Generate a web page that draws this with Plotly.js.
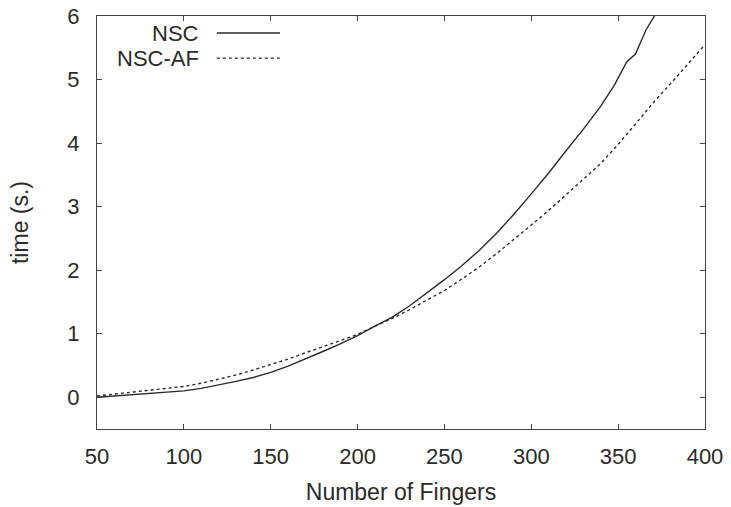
<!DOCTYPE html>
<html>
<head>
<meta charset="utf-8">
<script src="https://cdn.plot.ly/plotly-3.0.1.min.js"></script>
<style>html,body{margin:0;padding:0;background:#fff;}#chart{width:731px;height:507px;}</style>
</head>
<body>
<div id="chart"></div>
<script>
// Data
const nscX = [50,60,70,80,90,100,110,120,130,140,150,160,170,180,190,200,210,220,230,240,250,260,270,280,290,300,310,320,330,340,348,355,360,366,372];
const nscY = [0.0,0.02,0.04,0.06,0.08,0.10,0.14,0.19,0.25,0.31,0.39,0.49,0.60,0.72,0.84,0.97,1.12,1.26,1.44,1.64,1.85,2.07,2.31,2.58,2.88,3.20,3.53,3.88,4.22,4.58,4.92,5.28,5.40,5.78,6.05];
const afX = [50,60,70,80,90,100,110,120,130,140,150,160,170,180,190,200,210,220,230,240,250,260,270,280,290,300,310,320,330,340,350,360,370,380,390,400];
const afY = [0.02,0.05,0.08,0.11,0.14,0.17,0.22,0.28,0.35,0.43,0.51,0.60,0.70,0.79,0.89,0.99,1.11,1.24,1.38,1.53,1.68,1.86,2.05,2.26,2.48,2.71,2.94,3.18,3.43,3.68,3.98,4.30,4.63,4.93,5.24,5.55];
const seriesNames = ['NSC', 'NSC-AF'];
const xTicks = [50,100,150,200,250,300,350,400];
const yTicks = [0,1,2,3,4,5,6];

const ink = '#2a2a2a';
const fontFam = 'Liberation Sans, Arial, sans-serif';
const traces = [
  {x: nscX, y: nscY, mode: 'lines', name: seriesNames[0], line: {color: ink, width: 1.4, dash: 'solid'}, showlegend: false},
  {x: afX, y: afY, mode: 'lines', name: seriesNames[1], line: {color: ink, width: 1.4, dash: 'dot'}, showlegend: false}
];

const axisCommon = {
  showgrid: false, zeroline: false, showline: true, linecolor: '#444', linewidth: 1.2,
  mirror: 'ticks', ticks: 'inside', ticklen: 5, tickcolor: '#444', tickwidth: 1,
  tickfont: {family: fontFam, size: 22, color: ink}
};

const layout = {
  width: 731, height: 507,
  margin: {l: 97, r: 26, t: 16, b: 78},
  paper_bgcolor: '#ffffff', plot_bgcolor: '#ffffff',
  xaxis: Object.assign({}, axisCommon, {
    range: [50, 400], tickvals: xTicks, ticktext: xTicks.map(String),
    ticklabelstandoff: 7,
    title: {text: 'Number of Fingers', font: {family: fontFam, size: 23, color: ink}, standoff: 16}
  }),
  yaxis: Object.assign({}, axisCommon, {
    range: [-0.5, 6], tickvals: yTicks, ticktext: yTicks.map(String),
    ticklabelstandoff: 12,
    title: {text: 'time (s.)', font: {family: fontFam, size: 23, color: ink}, standoff: 32}
  }),
  annotations: [
    {xref: 'paper', yref: 'paper', x: 0.171, y: 0.957, xanchor: 'right', yanchor: 'middle', text: seriesNames[0], showarrow: false, font: {family: fontFam, size: 22, color: ink}},
    {xref: 'paper', yref: 'paper', x: 0.171, y: 0.896, xanchor: 'right', yanchor: 'middle', text: seriesNames[1], showarrow: false, font: {family: fontFam, size: 22, color: ink}}
  ],
  shapes: [
    {type: 'line', xref: 'paper', yref: 'paper', x0: 0.197, x1: 0.301, y0: 0.959, y1: 0.959, line: {color: ink, width: 1.4, dash: 'solid'}},
    {type: 'line', xref: 'paper', yref: 'paper', x0: 0.197, x1: 0.301, y0: 0.898, y1: 0.898, line: {color: ink, width: 1.4, dash: 'dot'}}
  ]
};

Plotly.newPlot('chart', traces, layout, {displayModeBar: false, staticPlot: true});
</script>
</body>
</html>
